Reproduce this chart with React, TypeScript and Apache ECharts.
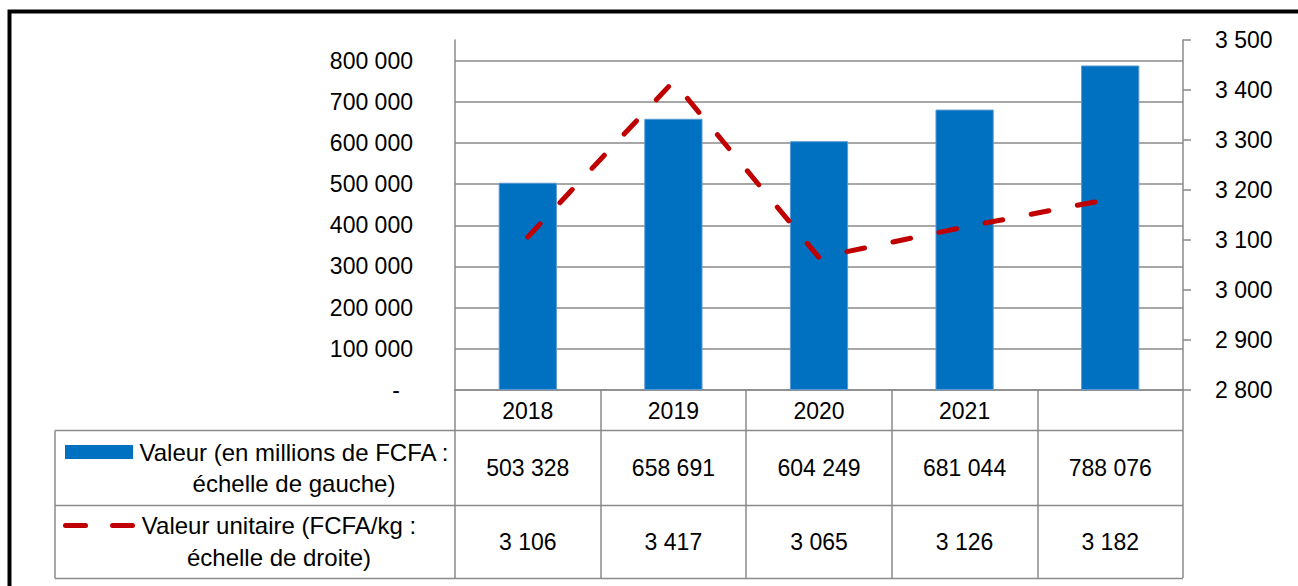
import React, { useEffect, useRef } from "react";
import * as echarts from "echarts";

const categories = ["2018", "2019", "2020", "2021", ""];
const valeurs = [503328, 658691, 604249, 681044, 788076];
const unitaires = [3106, 3417, 3065, 3126, 3182];
const legendLabels = [
  "Valeur (en millions de FCFA :\néchelle de gauche)",
  "Valeur unitaire (FCFA/kg :\néchelle de droite)",
];
const leftAxis = { min: 0, max: 850000, interval: 100000 };
const rightAxis = { min: 2800, max: 3500, interval: 100 };

const FONT = "Liberation Sans";
const GRAY = "#8a8a8a";
const BLUE = "#0070C0";
const RED = "#C00000";

const fmt = (n: number) => String(n).replace(/\B(?=(\d{3})+(?!\d))/g, " ");

export default function App() {
  const ref = useRef<HTMLDivElement>(null);
  useEffect(() => {
    if (!ref.current) return;
    const chart = echarts.init(ref.current, null, { renderer: "svg" });
    const label = { fontSize: 23, color: "#000", fontFamily: FONT };
    const option: any = {
      animation: false,
      textStyle: { fontFamily: FONT },
      grid: { left: 455, right: 115, top: 40, bottom: 196 },
      xAxis: [
        {
          type: "category",
          data: categories,
          position: "bottom",
          axisLine: { show: true, lineStyle: { color: GRAY, width: 1.5 } },
          axisTick: { show: true, length: 188, interval: 0, alignWithLabel: false, lineStyle: { color: GRAY, width: 1.5 } },
          axisLabel: { ...label, interval: 0, margin: 21, verticalAlign: "middle" },
          splitLine: { show: false },
        },
        {
          type: "category",
          data: valeurs.map(fmt),
          position: "bottom",
          axisLine: { show: false },
          axisTick: { show: false },
          axisLabel: { ...label, interval: 0, margin: 77.5, verticalAlign: "middle" },
          splitLine: { show: false },
        },
        {
          type: "category",
          data: unitaires.map(fmt),
          position: "bottom",
          axisLine: { show: false },
          axisTick: { show: false },
          axisLabel: { ...label, interval: 0, margin: 151.5, verticalAlign: "middle" },
          splitLine: { show: false },
        },
      ],
      yAxis: [
        {
          type: "value",
          position: "left",
          min: leftAxis.min,
          max: leftAxis.max,
          interval: leftAxis.interval,
          axisLine: { show: true, lineStyle: { color: GRAY, width: 1.5 } },
          axisTick: { show: false },
          splitLine: { show: true, showMaxLine: false, lineStyle: { color: GRAY, width: 1.5 } },
          axisLabel: {
            ...label,
            margin: 42,
            showMaxLabel: false,
            formatter: (v: number) => (v === 0 ? "{d|-}" : fmt(v)),
            rich: { d: { fontSize: 23, color: "#000", fontFamily: FONT, padding: [0, 13, 0, 0] } },
          },
        },
        {
          type: "value",
          position: "right",
          min: rightAxis.min,
          max: rightAxis.max,
          interval: rightAxis.interval,
          axisLine: { show: true, lineStyle: { color: GRAY, width: 1.5 } },
          axisTick: { show: true, inside: false, length: 8, lineStyle: { color: GRAY, width: 1.5 } },
          splitLine: { show: false },
          axisLabel: { ...label, margin: 32, formatter: (v: number) => fmt(v) },
        },
      ],
      series: [
        {
          type: "bar",
          data: valeurs,
          xAxisIndex: 0,
          yAxisIndex: 0,
          barWidth: "40%",
          itemStyle: { color: BLUE, borderColor: "#5b9bd5", borderWidth: 1 },
        },
        {
          type: "line",
          data: unitaires,
          xAxisIndex: 0,
          yAxisIndex: 1,
          symbol: "none",
          lineStyle: { color: RED, width: 5, type: [18, 29], cap: "round" },
        },
      ],
      graphic: [
        {
          type: "polyline",
          shape: { points: [[9.5, 600], [9.5, 11.5], [1310, 11.5]] },
          style: { stroke: "#000", lineWidth: 4, fill: "none" },
        },
        { type: "line", shape: { x1: 55, y1: 430.5, x2: 1183, y2: 430.5 }, style: { stroke: GRAY, lineWidth: 1.5 } },
        { type: "line", shape: { x1: 55, y1: 505.5, x2: 1183, y2: 505.5 }, style: { stroke: GRAY, lineWidth: 1.5 } },
        { type: "line", shape: { x1: 55, y1: 578.5, x2: 1183, y2: 578.5 }, style: { stroke: GRAY, lineWidth: 1.5 } },
        { type: "line", shape: { x1: 55, y1: 430.5, x2: 55, y2: 578.5 }, style: { stroke: GRAY, lineWidth: 1.5 } },
        { type: "rect", shape: { x: 65, y: 445, width: 68, height: 14 }, style: { fill: BLUE } },
        {
          type: "line",
          shape: { x1: 65.5, y1: 525.5, x2: 132.5, y2: 525.5 },
          style: { stroke: RED, lineWidth: 5, lineDash: [20, 27], lineCap: "round" },
        },
        {
          type: "text",
          x: 294,
          y: 467.5,
          style: {
            text: legendLabels[0],
            fontSize: 24,
            fontFamily: FONT,
            fill: "#000",
            align: "center",
            verticalAlign: "middle",
            lineHeight: 31,
          },
        },
        {
          type: "text",
          x: 279,
          y: 541.5,
          style: {
            text: legendLabels[1],
            fontSize: 24,
            fontFamily: FONT,
            fill: "#000",
            align: "center",
            verticalAlign: "middle",
            lineHeight: 32,
          },
        },
      ],
    };
    chart.setOption(option);
    return () => chart.dispose();
  }, []);
  return (
    <div
      ref={ref}
      style={{ position: "absolute", left: 0, top: 0, width: 1298, height: 586, background: "#fff" }}
    />
  );
}
